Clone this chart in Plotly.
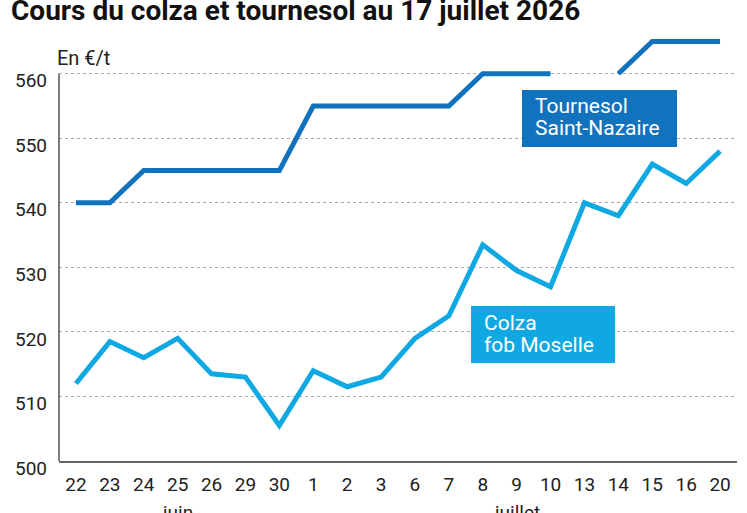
import plotly.graph_objects as go

categories = ["22", "23", "24", "25", "26", "29", "30", "1", "2", "3",
              "6", "7", "8", "9", "10", "13", "14", "15", "16", "20"]
tournesol = [540, 540, 545, 545, 545, 545, 545, 555, 555, 555,
             555, 555, 560, 560, 560, None, 560, 565, 565, 565]
colza = [512, 518.5, 516, 519, 513.5, 513, 505.5, 514, 511.5, 513,
         519, 522.5, 533.5, 529.5, 527, 540, 538, 546, 543, 548]
y_ticks = [500, 510, 520, 530, 540, 550, 560]
months = [("juin", 3), ("juillet", 13)]

C_TOUR = "#1173bd"
C_COLZA = "#10a8e2"
FONT = "Roboto"

W, H = 747, 513
L, R, T, B = 59, 10, 35, 52
PW, PH = W - L - R, H - T - B


def px(x):
    return (x - L) / PW


def py(y):
    return (H - B - y) / PH


fig = go.Figure()
fig.add_trace(go.Scatter(x=categories, y=tournesol, mode="lines",
                         line=dict(color=C_TOUR, width=5),
                         connectgaps=False, showlegend=False, cliponaxis=False))
fig.add_trace(go.Scatter(x=categories, y=colza, mode="lines",
                         line=dict(color=C_COLZA, width=5),
                         showlegend=False, cliponaxis=False))

shapes = [
    dict(type="line", xref="paper", yref="y", x0=0, x1=0, y0=y_ticks[0], y1=y_ticks[-1],
         line=dict(color="#555555", width=1.5), layer="above"),
    dict(type="rect", xref="paper", yref="paper", x0=px(522), x1=px(677),
         y0=py(147), y1=py(90), fillcolor=C_TOUR, line=dict(width=0), layer="above"),
    dict(type="rect", xref="paper", yref="paper", x0=px(471), x1=px(615),
         y0=py(363), y1=py(306), fillcolor=C_COLZA, line=dict(width=0), layer="above"),
]

ann = []
ann.append(dict(text="<b>Cours du colza et tournesol au 17 juillet 2026</b>",
                xref="paper", yref="paper", x=px(9), y=py(-8),
                xanchor="left", yanchor="top", showarrow=False,
                font=dict(family=FONT, size=28, color="#111111")))
ann.append(dict(text="En €/t", xref="paper", yref="paper", x=px(55), y=py(44),
                xanchor="left", yanchor="top", showarrow=False,
                font=dict(family=FONT, size=20, color="#222222")))
for txt, xl, yb in [("Tournesol", 533, 115), ("Saint-Nazaire", 533, 137),
                    ("Colza", 482, 332), ("fob Moselle", 482, 354)]:
    ann.append(dict(text=txt, xref="paper", yref="paper", x=px(xl), y=py(yb + 5),
                    xanchor="left", yanchor="bottom", showarrow=False,
                    font=dict(family=FONT, size=21, color="white")))
for name, idx in months:
    ann.append(dict(text=name, xref="x", yref="paper", x=idx, y=py(499),
                    xanchor="center", yanchor="top", showarrow=False,
                    font=dict(family=FONT, size=19, color="#222222")))

fig.update_layout(
    width=W, height=H,
    margin=dict(l=L, r=R, t=T, b=B),
    paper_bgcolor="white", plot_bgcolor="white",
    font=dict(family=FONT, size=19, color="#222222"),
    shapes=shapes, annotations=ann,
    xaxis=dict(type="category", range=[-0.5, 19.5], showgrid=False,
               showline=True, linecolor="#666666", linewidth=1.5,
               ticks="", ticklabelstandoff=5,
               tickfont=dict(size=19, color="#222222"), fixedrange=True),
    yaxis=dict(range=[500, 566], tickvals=y_ticks, showgrid=True,
               gridcolor="#aaaaaa", griddash="dot", gridwidth=1.2,
               zeroline=False, showline=False,
               ticks="", ticklabelstandoff=11, ticklabelshift=7,
               tickfont=dict(size=19, color="#222222")),
)

fig.write_html("out.html")
